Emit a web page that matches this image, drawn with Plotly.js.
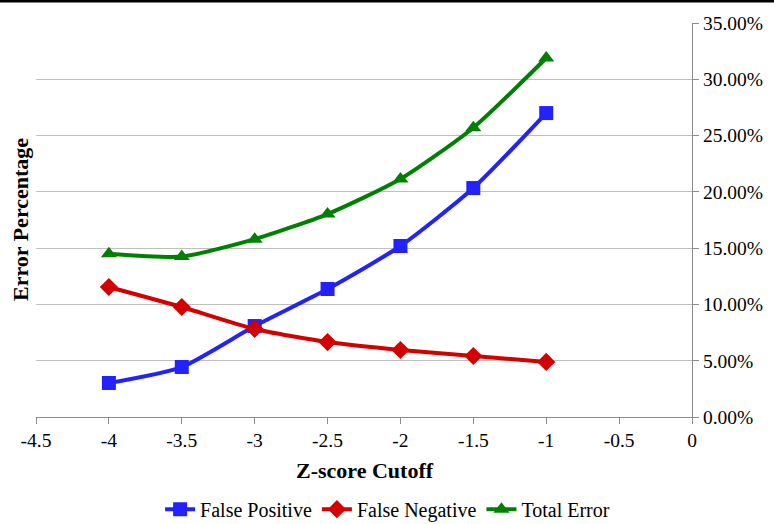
<!DOCTYPE html>
<html>
<head>
<meta charset="utf-8">
<script src="https://cdn.plot.ly/plotly-3.0.1.min.js"></script>
<style>html,body{margin:0;padding:0;background:#fff;}#chart{width:774px;height:524px;}</style>
</head>
<body>
<div id="chart"></div>
<script>
const zCutoff = [-4, -3.5, -3, -2.5, -2, -1.5, -1];
const falsePositive = [3.02, 4.44, 8.08, 11.37, 15.19, 20.34, 27.0];
const falseNegative = [11.55, 9.77, 7.82, 6.66, 5.95, 5.42, 4.89];
const totalError = [14.5, 14.25, 15.8, 18.03, 21.14, 25.7, 31.89];
const xTicks = [-4.5, -4, -3.5, -3, -2.5, -2, -1.5, -1, -0.5, 0];
const yTicks = [0, 5, 10, 15, 20, 25, 30, 35];

const font = '"Liberation Serif", "Times New Roman", serif';
function series(name, y, color, symbol, size) {
  return {
    x: zCutoff, y: y, name: name, type: 'scatter', mode: 'lines+markers',
    line: {color: color, width: 4, shape: 'spline', smoothing: 0.6},
    marker: {color: color, symbol: symbol, size: size}
  };
}
const data = [
  series('False Positive', falsePositive, '#2222ff', 'square', 14),
  series('False Negative', falseNegative, '#d40000', 'diamond', 14),
  series('Total Error', totalError, '#008000', 'triangle-up', 14)
];
const layout = {
  width: 774, height: 524,
  margin: {l: 36, r: 82, t: 23, b: 107, autoexpand: false},
  paper_bgcolor: '#fff', plot_bgcolor: '#fff',
  font: {family: font, size: 19.5, color: '#000'},
  showlegend: true,
  legend: {orientation: 'h', x: 0.536, xanchor: 'center', y: -0.234, yanchor: 'middle',
           font: {family: font, size: 20}, itemwidth: 30},
  xaxis: {
    range: [-4.5, 0], tickvals: xTicks, ticktext: xTicks.map(String),
    showgrid: false, zeroline: false, showline: true, linecolor: '#8c8c8c', linewidth: 1,
    ticks: 'outside', ticklen: 6, tickcolor: '#8c8c8c',
    tickfont: {family: font, size: 19.5}
  },
  yaxis: {
    range: [0, 35], side: 'right', tickvals: yTicks, ticktext: yTicks.map(v => v.toFixed(2) + '%'),
    showgrid: true, gridcolor: '#c0c0c0', gridwidth: 1, zeroline: false,
    showline: true, linecolor: '#8c8c8c', linewidth: 1,
    ticks: 'outside', ticklen: 6, tickcolor: '#8c8c8c',
    tickfont: {family: font, size: 19.5}
  },
  annotations: [{
    text: '<b>Error Percentage</b>', xref: 'paper', yref: 'paper',
    x: -16 / 656, y: 0.5, xanchor: 'center', yanchor: 'middle', textangle: -90,
    showarrow: false, font: {family: font, size: 22}
  }, {
    text: '<b>Z-score Cutoff</b>', xref: 'paper', yref: 'paper',
    x: (364.5 - 36) / 656, y: -(470 - 417) / 394, xanchor: 'center', yanchor: 'middle',
    showarrow: false, font: {family: font, size: 22}
  }],
  shapes: [{
    type: 'line', xref: 'paper', yref: 'paper',
    x0: -36 / 656, x1: 738 / 656, y0: 416 / 394, y1: 416 / 394,
    line: {color: '#000', width: 3}
  }]
};
Plotly.newPlot('chart', data, layout, {displayModeBar: false});
</script>
</body>
</html>
